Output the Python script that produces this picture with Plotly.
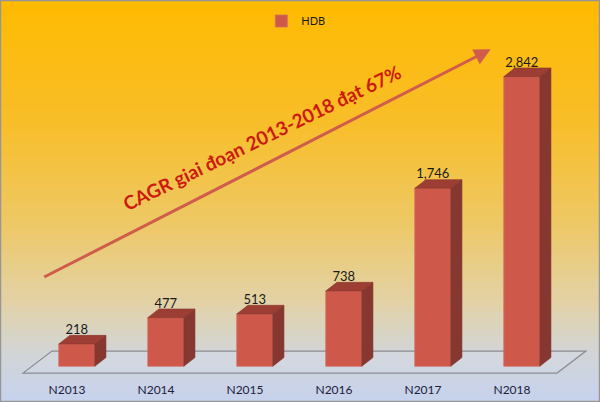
import plotly.graph_objects as go

# data
categories = ["N2013", "N2014", "N2015", "N2016", "N2017", "N2018"]
values = [218, 477, 513, 738, 1746, 2842]
series_name = "HDB"
note_text = "CAGR giai đoạn 2013-2018 đạt 67%"

# geometry of the fake 3D look (data units)
W, H = 600, 402
MB = 27                      # bottom margin in px
BAR_W = 0.405
DX, DY = 0.125, 85           # depth offset of the bar sides / tops
X_RANGE = [-0.863, 5.879]
Y_RANGE = [-86, 3594]

FRONT = "rgb(206,88,74)"
SIDE = "rgb(134,56,48)"
TOP = "rgb(156,62,52)"

xs = list(range(len(categories)))

# side and top faces as filled polygons
side_x, side_y, top_x, top_y = [], [], [], []
for i, v in zip(xs, values):
    r = i + BAR_W / 2
    l = i - BAR_W / 2
    side_x += [r, r + DX, r + DX, r, r, None]
    side_y += [0, DY, v + DY, v, 0, None]
    top_x += [l, r, r + DX, l + DX, l, None]
    top_y += [v, v, v + DY, v + DY, v, None]

fig = go.Figure()
fig.add_trace(go.Bar(x=xs, y=values, width=BAR_W, name=series_name,
                     marker=dict(color=FRONT, line=dict(color="rgb(215,110,95)", width=0.8)),
                     hoverinfo="skip"))
fig.add_trace(go.Scatter(x=side_x, y=side_y, mode="lines", fill="toself",
                         fillcolor=SIDE, line=dict(color="rgb(120,50,42)", width=0.6),
                         showlegend=False, hoverinfo="skip"))
fig.add_trace(go.Scatter(x=top_x, y=top_y, mode="lines", fill="toself",
                         fillcolor=TOP, line=dict(color="rgb(140,55,46)", width=0.6),
                         showlegend=False, hoverinfo="skip"))
fig.add_trace(go.Scatter(x=xs, y=[v + DY - 20 for v in values], mode="text",
                         text=[f"{v:,}" for v in values], textposition="top center",
                         textfont=dict(family="Lato", size=13, color="#1a1a1a"),
                         showlegend=False, hoverinfo="skip"))

# background gradient, top orange to pale blue at the bottom
stops = [(0.0, (255, 186, 0)), (0.3, (248, 190, 40)), (0.55, (238, 200, 100)),
         (0.75, (226, 210, 165)), (0.88, (210, 213, 215)), (1.0, (198, 210, 238))]


def grad(t):
    for (t0, c0), (t1, c1) in zip(stops, stops[1:]):
        if t <= t1:
            f = (t - t0) / (t1 - t0)
            return "rgb(%d,%d,%d)" % tuple(round(a + (b - a) * f) for a, b in zip(c0, c1))
    return "rgb(%d,%d,%d)" % stops[-1][1]


shapes = []
ph = H - MB
n_strips = 67
for k in range(n_strips):
    top_px = k * H / n_strips
    bot_px = (k + 1) * H / n_strips + 1
    shapes.append(dict(type="rect", xref="paper", yref="paper", layer="below",
                       x0=0, x1=1, y0=(ph - bot_px) / ph, y1=(ph - top_px) / ph,
                       fillcolor=grad((k + 0.5) / n_strips), line=dict(width=0)))

# floor of the 3D chart
fx0, fx1 = -0.604, len(categories) - 0.604
shift = 0.325
fy0, fy1 = -67, 149
shapes.append(dict(type="path", xref="x", yref="y", layer="below",
                   path=f"M {fx0},{fy0} L {fx1},{fy0} L {fx1 + shift},{fy1} L {fx0 + shift},{fy1} Z",
                   fillcolor="rgba(215,220,235,0.35)", line=dict(color="rgb(140,140,145)", width=1.2)))

# frame
shapes.append(dict(type="rect", xref="paper", yref="paper", layer="above",
                   x0=0, x1=1, y0=-MB / ph, y1=1,
                   line=dict(color="rgb(150,150,150)", width=2.5), fillcolor="rgba(0,0,0,0)"))

annotations = [
    dict(x=4.651, y=3110, ax=-0.383, ay=868, xref="x", yref="y", axref="x", ayref="y",
         showarrow=True, arrowhead=2, arrowsize=1.1, arrowwidth=3,
         arrowcolor="rgb(208,92,76)", text=""),
    dict(x=2.08, y=2240, xref="x", yref="y", showarrow=False, text=f"<b>{note_text}</b>",
         textangle=-26, font=dict(family="Lato", size=19, color="#cc1a0e")),
]

fig.update_layout(
    width=W, height=H,
    margin=dict(l=0, r=0, t=0, b=MB, autoexpand=False),
    paper_bgcolor="white", plot_bgcolor="rgba(0,0,0,0)",
    shapes=shapes, annotations=annotations,
    showlegend=True,
    legend=dict(x=0.493, y=(ph - 21) / ph, xanchor="center", yanchor="middle",
                orientation="h", bgcolor="rgba(0,0,0,0)",
                font=dict(family="Lato", size=11, color="#1a1a1a")),
    xaxis=dict(range=X_RANGE, tickvals=[i - 0.11 for i in xs], ticktext=categories,
               showgrid=False, zeroline=False, showline=False, ticks="",
               ticklabelstandoff=6,
               tickfont=dict(family="Lato", size=12, color="#20203a"), fixedrange=True),
    yaxis=dict(range=Y_RANGE, visible=False, showgrid=False, zeroline=False, fixedrange=True),
)

fig.write_html("out.html", config={"displayModeBar": False},
               post_script="document.body.style.margin='0';")
